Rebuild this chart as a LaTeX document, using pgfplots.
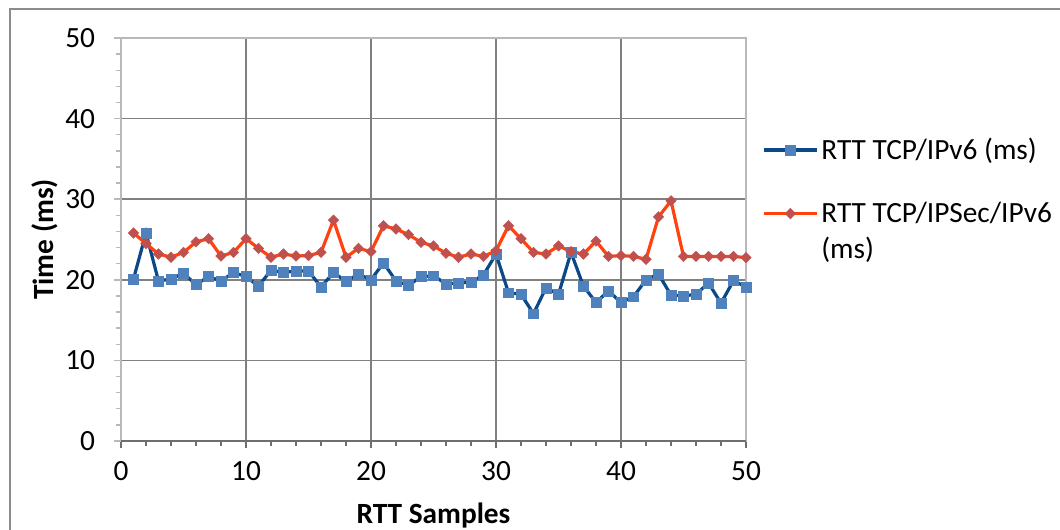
\documentclass[border=0pt]{standalone}
\usepackage{pgfplots}
\pgfplotsset{compat=1.18}
\usepackage{fontspec}
\setmainfont{Carlito}
\definecolor{blueline}{RGB}{10,72,135}
\definecolor{bluemark}{RGB}{79,129,189}
\definecolor{redline}{RGB}{255,66,14}
\definecolor{redmark}{RGB}{192,80,77}
\definecolor{gridc}{RGB}{128,128,128}
\definecolor{framec}{RGB}{185,185,185}
\definecolor{xaxc}{RGB}{110,110,110}
\definecolor{borderc}{RGB}{140,140,140}
\pgfplotstableread{
x y
1 20.1
2 25.8
3 19.85
4 20.1
5 20.8
6 19.4
7 20.4
8 19.85
9 20.9
10 20.4
11 19.2
12 21.2
13 20.9
14 21.1
15 21.1
16 19.1
17 20.9
18 19.8
19 20.7
20 20.0
21 22.1
22 19.85
23 19.3
24 20.4
25 20.5
26 19.5
27 19.6
28 19.7
29 20.6
30 23.2
31 18.4
32 18.2
33 15.8
34 19.0
35 18.2
36 23.4
37 19.2
38 17.2
39 18.6
40 17.2
41 17.9
42 20.0
43 20.7
44 18.1
45 18.0
46 18.2
47 19.6
48 17.1
49 19.9
50 19.1
}\tcp
\pgfplotstableread{
x y
1 25.8
2 24.5
3 23.2
4 22.8
5 23.4
6 24.7
7 25.1
8 22.95
9 23.4
10 25.1
11 23.9
12 22.8
13 23.2
14 22.95
15 23.0
16 23.4
17 27.4
18 22.8
19 23.9
20 23.5
21 26.7
22 26.3
23 25.6
24 24.65
25 24.2
26 23.3
27 22.8
28 23.2
29 22.9
30 23.6
31 26.7
32 25.1
33 23.4
34 23.2
35 24.2
36 23.5
37 23.2
38 24.8
39 22.9
40 23.0
41 22.9
42 22.55
43 27.8
44 29.8
45 22.9
46 22.9
47 22.9
48 22.9
49 22.9
50 22.75
}\ipsec
\begin{document}
\begin{tikzpicture}
\useasboundingbox (0pt,0pt) rectangle (795pt,397.5pt);
\draw[borderc, line width=1.1pt] (7.5pt,0pt) -- (7.5pt,390.75pt) -- (795pt,390.75pt);
\begin{axis}[
  at={(90.75pt,66.75pt)}, anchor=south west,
  scale only axis, width=468.75pt, height=302.25pt,
  xmin=0, xmax=50, ymin=0, ymax=50,
  xtick={0,10,...,50}, ytick={0,10,...,50},
  minor x tick num=4, minor y tick num=4,
  grid=major, major grid style={gridc, line width=1.3pt},
  axis line style={framec, line width=1.1pt},
  tick align=outside,
  major tick length=5.25pt, minor tick length=4pt,
  xtick style={xaxc, line width=1.1pt},
  minor x tick style={xaxc, line width=1.1pt},
  ytick style={framec, line width=1.1pt},
  minor y tick style={framec, line width=1.1pt},
  xtick pos=bottom, ytick pos=left,
  /pgf/number format/assume math mode=true,
  ticklabel style={font=\fontsize{22}{26}\selectfont, inner sep=0pt},
  xticklabel style={yshift=-10pt},
  yticklabel style={xshift=-14pt},
  xlabel={\textbf{RTT Samples}},
  ylabel={\textbf{Time (ms)}},
  label style={font=\fontsize{22}{26}\selectfont},
  xlabel style={at={(axis description cs:0.5,-0.184)}, anchor=center},
  ylabel style={at={(axis description cs:-0.1216,0.5)}, anchor=center},
  legend style={at={(axis description cs:1.019,0.765)}, anchor=north west,
    draw=none, fill=none, font=\fontsize{22}{26}\selectfont, row sep=26.5pt},
  legend cell align=left,
  legend image code/.code={\draw[mark repeat=2,mark phase=2] plot coordinates {(0pt,0pt) (20pt,0pt) (40pt,0pt)};},
  after end axis/.code={\draw[xaxc, line width=1.1pt] (rel axis cs:0,0) -- (rel axis cs:1,0);},
  clip=false,
]
\addplot[blueline, line width=2.4pt, mark=square*, mark size=3.7pt, mark options={fill=bluemark, draw=bluemark, line width=0.3pt}] table[x=x,y=y] {\tcp};
\addlegendentry{RTT TCP/IPv6 (ms)}
\addplot[redline, line width=2.4pt, mark=square*, mark size=2.8pt, mark options={fill=redmark, draw=redmark, line width=0.3pt, rotate=45}] table[x=x,y=y] {\ipsec};
\addlegendentry{\rlap{\raisebox{-26.5pt}[0pt][0pt]{(ms)}}RTT TCP/IPSec/IPv6}
\end{axis}
\end{tikzpicture}
\end{document}
